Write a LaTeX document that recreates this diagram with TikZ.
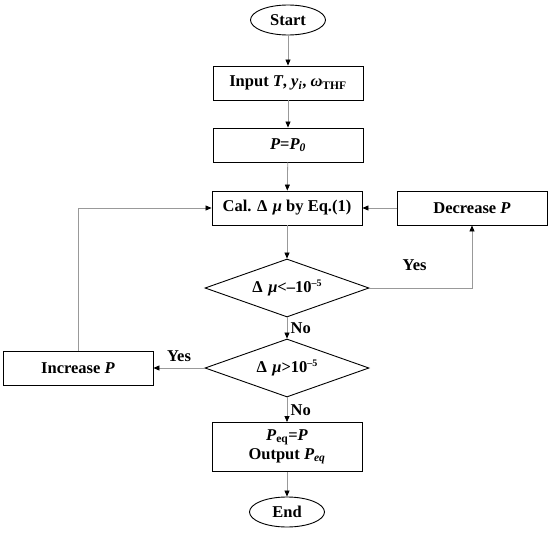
\documentclass[tikz,border=0pt]{standalone}
\usepackage{fontspec}
\setmainfont{Liberation Serif}
\usetikzlibrary{
    shapes.geometric,
    arrows.meta,
    positioning
}
\newcommand{\supfive}{\raisebox{0.85ex}{\fontsize{10}{10}\selectfont –5}}
\tikzset{
    boxfont/.style={font=\bfseries\fontsize{16.5}{19}\selectfont},
    stepbox/.style={draw, line width=0.9pt, boxfont, minimum width=150pt, minimum height=34pt, inner sep=2pt},
    termnode/.style={draw, ellipse, line width=0.9pt, boxfont, minimum width=75pt, minimum height=30pt, inner sep=0pt},
    testnode/.style={draw, diamond, aspect=2.8, line width=0.9pt, boxfont, minimum width=164pt, minimum height=58pt, inner sep=0pt},
    flow/.style={draw=gray!80, line width=0.8pt, -{Triangle[black, length=6pt, width=5pt]}},
    lbl/.style={boxfont}
}

\begin{document}
\begin{tikzpicture}[x=1pt, y=-1pt]
                        \useasboundingbox (0,0) rectangle (550,538);
                        \node[termnode] (start) at (288, 20) {Start};
                        \node[stepbox] (inp) at (288, 83) {Input \textit{T}, \textit{y\textsubscript{i}}, \textit{ω}\textsubscript{THF}};
                        \node[stepbox] (pinit) at (288, 145) {\textit{P}=\textit{P\textsubscript{0}}};
                        \node[stepbox] (cal) at (287, 208) {Cal. Δ\,\,\textit{μ} by Eq.(1)};
                        \node[stepbox] (dec) at (472, 208) {Decrease \textit{P}};
                        \node[testnode] (lo) at (287, 288) {Δ\,\,\textit{μ}<–10\supfive};
                        \node[testnode] (hi) at (287, 368) {Δ\,\,\textit{μ}>10\supfive};
                        \node[stepbox] (inc) at (78, 368) {Increase \textit{P}};
                        \node[stepbox, minimum height=49pt, align=center] (out) at (287, 447) {\textit{P}\textsubscript{eq}=\textit{P}\\Output \textit{P\textsubscript{eq}}};
                        \node[termnode] (end) at (287, 512) {End};

                        \draw[flow] (start) -- (inp);
                        \draw[flow] (inp) -- (pinit);
                        \draw[flow] (pinit) -- (cal);
                        \draw[flow] (cal) -- (lo);
                        \draw[flow] (lo.east) -| node[pos=0.22, above=14pt, lbl]{Yes} (dec.south);
                        \draw[flow] (dec) -- (cal);
                        \draw[flow] (lo.south) -- node[right, lbl]{No} (hi.north);
                        \draw[flow] (hi.west) -- node[above=3pt, lbl]{Yes} (inc.east);
                        \draw[flow] (inc.north) |- (cal.west);
                        \draw[flow] (hi.south) -- node[right, lbl]{No} (out.north);
                        \draw[flow] (out) -- (end);
                    \end{tikzpicture}
\end{document}
